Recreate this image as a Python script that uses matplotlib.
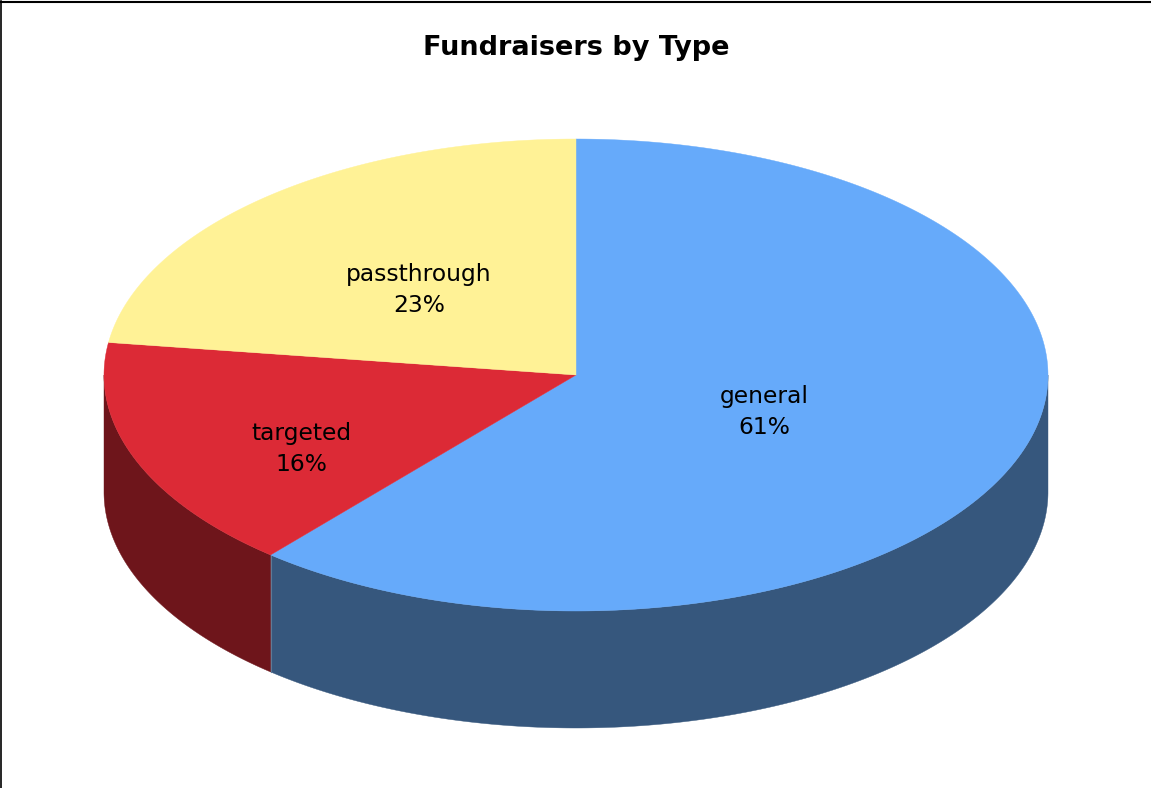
import matplotlib
matplotlib.use("Agg")
import matplotlib.pyplot as plt
import numpy as np

labels = ["general", "targeted", "passthrough"]
shares = [61.2, 16.0, 22.8]
top_colors = ["#66aafa", "#dc2a36", "#fff296"]
side_colors = ["#36577d", "#6e151b", "#807949"]

## pie geometry, pixels
cx, cy = 576, 375
rx, ry = 472, 236
depth = 117
label_xy = [(764, 412), (301, 449), (419, 290)]


def rim(t):
    ## t is clockwise from 12 o'clock
    return cx + rx * np.sin(t), cy - ry * np.cos(t)


fig = plt.figure(figsize=(11.51, 7.88), dpi=100)
ax = fig.add_axes([0, 0, 1, 1])
ax.set_xlim(0, 1151)
ax.set_ylim(788, 0)
ax.axis("off")

## chart frame, heavier along the top
ax.plot([0, 1151], [2, 2], color="black", lw=1.5, zorder=5)
ax.plot([0.6, 0.6], [1, 788], color="black", lw=1.2, zorder=5)

edges = 2 * np.pi * np.cumsum([0] + shares) / sum(shares)

## side walls first, only the part facing the viewer
for i in range(len(shares)):
    a = max(edges[i], np.pi / 2)
    b = min(edges[i + 1], 3 * np.pi / 2)
    if a >= b:
        continue
    t = np.linspace(a, b, 300)
    x, y = rim(t)
    ax.fill(
        np.r_[x, x[::-1]],
        np.r_[y, y[::-1] + depth],
        facecolor=side_colors[i],
        edgecolor=side_colors[i],
        lw=0.3,
        zorder=1,
    )

## light seam where the two walls meet
sx, sy = rim(edges[1])
ax.plot([sx, sx], [sy, sy + depth], color="#5f7a96", lw=0.8, zorder=1.5)

## top slices
for i in range(len(shares)):
    t = np.linspace(edges[i], edges[i + 1], 400)
    x, y = rim(t)
    ax.fill(
        np.r_[cx, x],
        np.r_[cy, y],
        facecolor=top_colors[i],
        edgecolor=top_colors[i],
        lw=0.3,
        zorder=2,
    )
    ax.text(
        label_xy[i][0],
        label_xy[i][1],
        f"{labels[i]}\n{shares[i]:.0f}%",
        ha="center",
        va="center",
        fontsize=16.8,
        linespacing=1.39,
        family="DejaVu Sans",
        zorder=3,
    )

ax.text(
    576,
    48,
    "Fundraisers by Type",
    ha="center",
    va="center",
    fontsize=19.55,
    fontweight="bold",
    family="DejaVu Sans",
)

fig.savefig("out.png", dpi=100)
